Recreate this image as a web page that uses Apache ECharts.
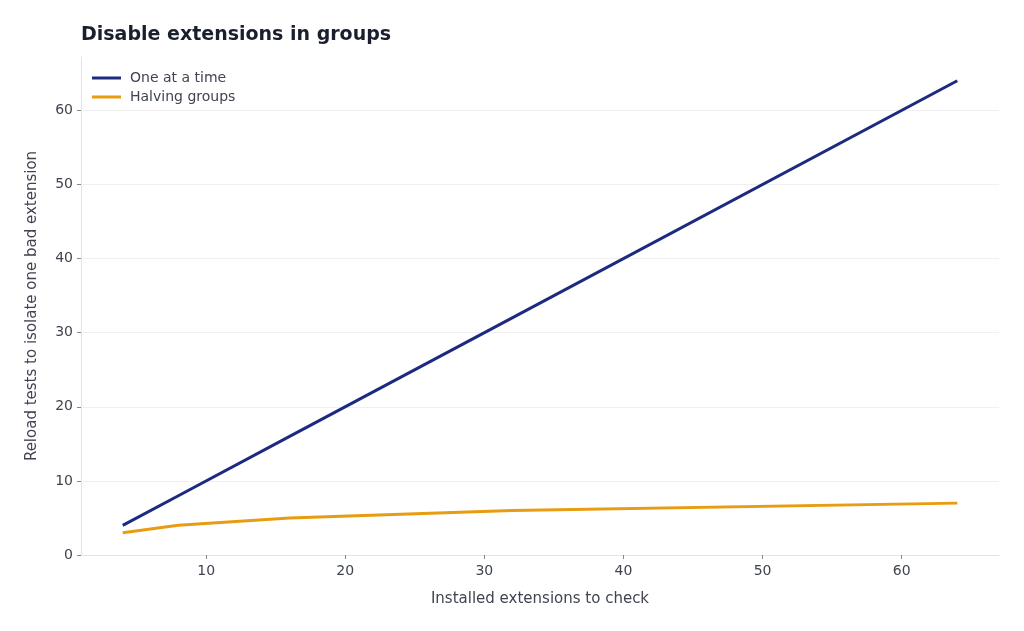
<!DOCTYPE html>
<html>
<head>
<meta charset="utf-8">
<script src="https://cdn.jsdelivr.net/npm/echarts@6/dist/echarts.min.js"></script>
<style>
  html, body { margin: 0; padding: 0; background: #fff; }
  #grafico { width: 1024px; height: 631px; }
</style>
</head>
<body>
<div id="grafico"></div>
<script>
// extensions installed vs reload tests
const extensoes = [4, 8, 16, 32, 64]
const umPorVez = [4, 8, 16, 32, 64]
const metades = [3, 4, 5, 6, 7]
const ticksX = [10, 20, 30, 40, 50, 60]
const ticksY = [0, 10, 20, 30, 40, 50, 60]

const fonte = "DejaVu Sans"
let myChart = echarts.init(document.getElementById("grafico"))

let option = {
  animation: false,
  textStyle: { fontFamily: fonte },
  title: {
    text: "Disable extensions in groups",
    left: 76,
    top: 21,
    textStyle: { fontFamily: fonte, fontSize: 19, fontWeight: "bold", color: "#1a1f2e" },
  },
  legend: {
    orient: "vertical",
    left: 87,
    top: 66,
    itemWidth: 29,
    itemHeight: 3,
    itemGap: 5,
    icon: "rect",
    textStyle: { fontFamily: fonte, fontSize: 14, color: "#3f4450", padding: [0, 0, 0, 4] },
    data: ["One at a time", "Halving groups"],
  },
  grid: { left: 81, right: 25, top: 57, bottom: 76 },
  xAxis: {
    type: "value",
    min: 1,
    max: 67,
    name: "Installed extensions to check",
    nameLocation: "middle",
    nameGap: 37,
    nameTextStyle: { fontFamily: fonte, fontSize: 15, color: "#3f4450" },
    axisLine: { show: true, lineStyle: { color: "#e3e3e3" } },
    axisTick: { show: true, length: 4, lineStyle: { color: "#888" }, customValues: ticksX },
    axisLabel: { fontFamily: fonte, fontSize: 14, color: "#3f4450", margin: 9, customValues: ticksX },
    splitLine: { show: false },
  },
  yAxis: {
    type: "value",
    min: 0,
    max: 67.2,
    interval: 10,
    name: "Reload tests to isolate one bad extension",
    nameLocation: "middle",
    nameGap: 41,
    nameTextStyle: { fontFamily: fonte, fontSize: 15, color: "#3f4450" },
    axisLine: { show: true, lineStyle: { color: "#e3e3e3" } },
    axisTick: { show: true, length: 4, lineStyle: { color: "#888" }, customValues: ticksY },
    axisLabel: { fontFamily: fonte, fontSize: 14, color: "#3f4450", margin: 8, customValues: ticksY },
    splitLine: { show: true, lineStyle: { color: "#f0f0f0" } },
  },
  series: [
    {
      name: "One at a time",
      type: "line",
      data: extensoes.map((x, i) => [x, umPorVez[i]]),
      showSymbol: false,
      lineStyle: { width: 3, color: "#1c2a80" },
      itemStyle: { color: "#1c2a80" },
    },
    {
      name: "Halving groups",
      type: "line",
      data: extensoes.map((x, i) => [x, metades[i]]),
      showSymbol: false,
      lineStyle: { width: 3, color: "#e89c12" },
      itemStyle: { color: "#e89c12" },
    },
  ],
}

option && myChart.setOption(option)
</script>
</body>
</html>
